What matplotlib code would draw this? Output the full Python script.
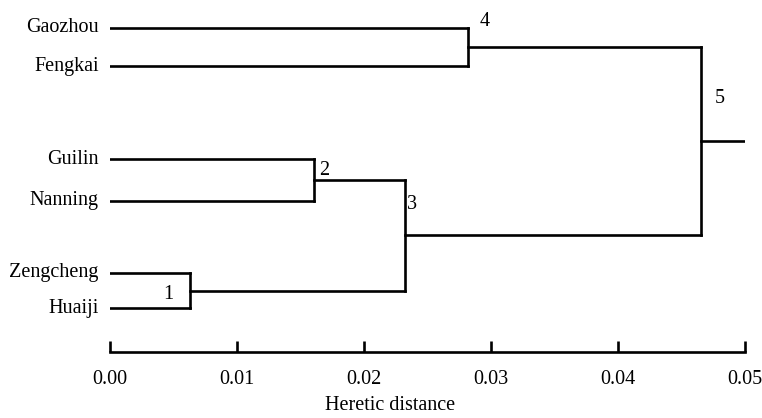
import matplotlib.pyplot as plt

plt.rcParams['font.family'] = ['Liberation Serif', 'DejaVu Serif']

# leaves, top to bottom, and their row positions (gaps between groups)
leaves = ['Gaozhou', 'Fengkai', 'Guilin', 'Nanning', 'Zengcheng', 'Huaiji']
leaf_rows = [28, 66, 159, 201, 273, 308]

# merges: (child a, child b, distance); new ids start at len(leaves)
merge_a = [4, 2, 7, 0, 9]
merge_b = [5, 3, 6, 1, 8]
merge_dist = [0.0063, 0.0161, 0.0232, 0.0282, 0.0465]
merge_names = ['1', '2', '3', '4', '5']
root_end = 0.05

xticks = [0.00, 0.01, 0.02, 0.03, 0.04, 0.05]

fs = 14.5
fig = plt.figure(figsize=(7.62, 4.18), dpi=100)
ax = fig.add_axes([110 / 762, (418 - 352) / 418, (745 - 110) / 762, 352 / 418])
ax.set_xlim(0, 0.05)
ax.set_ylim(352, 0)

lw = 1.9
pos_x = {i: 0.0 for i in range(len(leaves))}
pos_y = {i: y for i, y in enumerate(leaf_rows)}

for i, name in enumerate(leaves):
    ax.text(-0.0009, leaf_rows[i], name, ha='right', va='center', fontsize=fs,
            clip_on=False)

# offsets (points) of the node numbers
name_off = [(-12, -3), (3, 7), (2, 22), (8, 18), (10, 31)]
name_ha = ['right', 'left', 'left', 'left', 'left']

for k in range(len(merge_a)):
    a, b, d = merge_a[k], merge_b[k], merge_dist[k]
    ya, yb = pos_y[a], pos_y[b]
    ax.plot([pos_x[a], d], [ya, ya], color='black', lw=lw, solid_capstyle='projecting')
    ax.plot([pos_x[b], d], [yb, yb], color='black', lw=lw, solid_capstyle='projecting')
    ax.plot([d, d], [ya, yb], color='black', lw=lw, solid_capstyle='projecting')
    nid = len(leaves) + k
    pos_x[nid] = d
    pos_y[nid] = (ya + yb) / 2
    ax.annotate(merge_names[k], (d, pos_y[nid]), xytext=name_off[k],
                textcoords='offset points', ha=name_ha[k], va='center', fontsize=fs)

root = len(leaves) + len(merge_a) - 1
ax.plot([pos_x[root], root_end], [pos_y[root], pos_y[root]], color='black', lw=lw)

for s in ['top', 'left', 'right']:
    ax.spines[s].set_visible(False)
ax.spines['bottom'].set_linewidth(lw)
ax.set_yticks([])
ax.set_xticks(xticks)
ax.set_xticklabels([f'{t:.2f}' for t in xticks], fontsize=fs)
ax.tick_params(axis='x', direction='in', length=8, width=lw, pad=13)

fig.text(390 / 762, 1 - 406 / 418, 'Heretic distance', ha='center', va='center', fontsize=fs)

fig.savefig('out.png', dpi=100)
